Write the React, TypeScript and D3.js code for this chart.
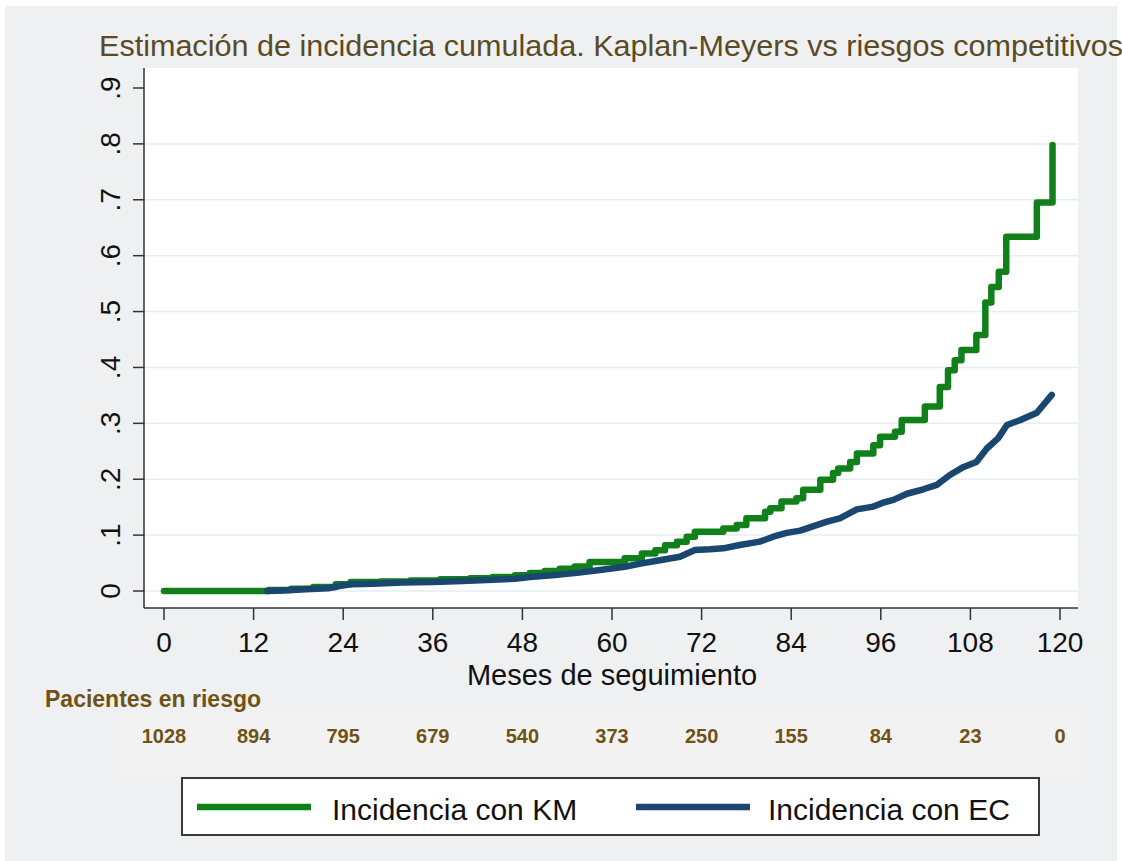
import * as d3 from 'd3'

const W = 1122, H = 861
const FONT = '"Liberation Sans", Arial, Helvetica, sans-serif'

// Kaplan-Meier cumulative incidence (step function): month, value
const KM_T = [0, 14, 17, 20, 23, 25, 29, 33, 37, 41, 44, 47, 49, 51, 53, 55, 57, 61.7, 64.0, 65.8,
  67.1, 68.7, 70.0, 71.1, 74.9, 76.7, 78.0, 80.5, 81.2, 82.7, 84.7, 85.6, 87.9, 89.6, 90.3, 91.9,
  92.8, 95.0, 95.9, 97.9, 98.8, 101.9, 103.9, 105.0, 105.9, 106.8, 108.8, 110.0, 110.8, 111.8,
  112.8, 116.9, 119.0]
const KM_V = [0, 0.002, 0.004, 0.007, 0.012, 0.016, 0.017, 0.019, 0.021, 0.023, 0.025, 0.028, 0.032,
  0.036, 0.040, 0.044, 0.052, 0.0585, 0.067, 0.073, 0.082, 0.088, 0.097, 0.106, 0.112, 0.118, 0.130,
  0.142, 0.148, 0.160, 0.166, 0.181, 0.199, 0.211, 0.219, 0.231, 0.246, 0.261, 0.276, 0.285, 0.306,
  0.330, 0.365, 0.395, 0.413, 0.431, 0.458, 0.516, 0.544, 0.571, 0.634, 0.695, 0.798]

// competing risks cumulative incidence
const EC_T = [13.8, 16, 19, 22, 23.5, 25, 28, 32, 36, 40, 44, 47, 49, 52, 55, 58.4, 61.7, 64.0, 66.0,
  69.1, 71.1, 73.1, 74.9, 77.1, 79.8, 81.6, 83.4, 85.2, 87.0, 88.8, 90.5, 92.8, 95.0, 96.3, 97.7,
  99.5, 101.7, 103.5, 105.3, 107.1, 108.8, 110.2, 111.7, 112.9, 114.7, 116.9, 118.9]
const EC_V = [0, 0.001, 0.003, 0.005, 0.009, 0.012, 0.013, 0.015, 0.016, 0.018, 0.020, 0.022, 0.025,
  0.028, 0.032, 0.0376, 0.0435, 0.0495, 0.0542, 0.0614, 0.0733, 0.0745, 0.0763, 0.0823, 0.0883,
  0.0972, 0.104, 0.108, 0.116, 0.124, 0.130, 0.146, 0.151, 0.158, 0.163, 0.174, 0.182, 0.190,
  0.208, 0.222, 0.231, 0.255, 0.273, 0.297, 0.306, 0.319, 0.351]

const X_TICKS = [0, 12, 24, 36, 48, 60, 72, 84, 96, 108, 120]
const Y_TICKS = [0, 0.1, 0.2, 0.3, 0.4, 0.5, 0.6, 0.7, 0.8, 0.9]
const Y_LABELS = ['0', '.1', '.2', '.3', '.4', '.5', '.6', '.7', '.8', '.9']
const AT_RISK = [1028, 894, 795, 679, 540, 373, 250, 155, 84, 23, 0]

const GREEN = '#12801a'
const NAVY = '#1a476f'
const BROWN = '#6e5314'

// plot region
const PL = 144, PR = 1078, PT = 68, PB = 608

export default function App() {
  const x = d3.scaleLinear([0, 120], [164, 1060])
  const y = d3.scaleLinear([0, 0.9], [591, 88])

  const km = KM_T.map((t, i) => [t, KM_V[i]] as [number, number])
  const ec = EC_T.map((t, i) => [t, EC_V[i]] as [number, number])

  const stepLine = d3.line<[number, number]>().x(d => x(d[0])).y(d => y(d[1])).curve(d3.curveStepAfter)
  const line = d3.line<[number, number]>().x(d => x(d[0])).y(d => y(d[1]))

  return (
    <div style={{ position: 'absolute', left: 0, top: 0 }}>
      <svg width={W} height={H} style={{ display: 'block', fontFamily: FONT }}>
        <rect x={0} y={0} width={W} height={H} fill="#fff" />
        <rect x={5} y={6} width={1112} height={855} fill="#eff0f1" />

        {/* title */}
        <text x={99} y={56} fontSize={30} fill="#5b4a24" textLength={1024} lengthAdjust="spacingAndGlyphs">
          Estimación de incidencia cumulada. Kaplan-Meyers vs riesgos competitivos
        </text>

        {/* plot region */}
        <rect x={PL} y={PT} width={PR - PL} height={PB - PT} fill="#fff" />
        {Y_TICKS.slice(0, -1).map(v => (
          <line key={v} x1={PL} x2={PR} y1={y(v)} y2={y(v)} stroke="#e4eef1" strokeWidth={1.5} />
        ))}

        {/* curves: EC drawn above KM */}
        <path d={stepLine(km) || ''} fill="none" stroke={GREEN} strokeWidth={6.5}
          strokeLinejoin="round" strokeLinecap="round" />
        <path d={line(ec) || ''} fill="none" stroke={NAVY} strokeWidth={6.5}
          strokeLinejoin="round" strokeLinecap="round" />

        {/* y axis */}
        <line x1={PL} x2={PL} y1={PT} y2={PB} stroke="#333" strokeWidth={1.5} />
        {Y_TICKS.map((v, i) => (
          <g key={v}>
            <line x1={PL - 11} x2={PL} y1={y(v)} y2={y(v)} stroke="#333" strokeWidth={1.5} />
            <text x={120} y={y(v)} fontSize={28} fill="#111" textAnchor="middle"
              transform={`rotate(-90, 120, ${y(v)})`}>{Y_LABELS[i]}</text>
          </g>
        ))}

        {/* x axis */}
        <line x1={PL} x2={PR} y1={PB} y2={PB} stroke="#333" strokeWidth={1.5} />
        {X_TICKS.map(v => (
          <g key={v}>
            <line x1={x(v)} x2={x(v)} y1={PB} y2={PB + 12} stroke="#333" strokeWidth={1.5} />
            <text x={x(v)} y={652} fontSize={28} fill="#111" textAnchor="middle">{v}</text>
          </g>
        ))}
        <text x={612} y={685} fontSize={29} fill="#111" textAnchor="middle">Meses de seguimiento</text>

        {/* number at risk */}
        <rect x={120} y={712} width={960} height={64} fill="#f2f2f3" />
        <text x={45} y={707} fontSize={23} fontWeight="bold" fill={BROWN}>Pacientes en riesgo</text>
        {AT_RISK.map((n, i) => (
          <text key={i} x={x(X_TICKS[i])} y={743} fontSize={20} fontWeight="bold" fill={BROWN}
            textAnchor="middle">{n}</text>
        ))}

        {/* legend */}
        <rect x={182} y={778} width={857} height={57} fill="#fff" stroke="#3a3a3a" strokeWidth={2} />
        <line x1={197} x2={311} y1={807} y2={807} stroke={GREEN} strokeWidth={6.5} />
        <text x={332} y={820} fontSize={30} fill="#111">Incidencia con KM</text>
        <line x1={636} x2={750} y1={807} y2={807} stroke={NAVY} strokeWidth={6.5} />
        <text x={768} y={820} fontSize={30} fill="#111">Incidencia con EC</text>
      </svg>
    </div>
  )
}
